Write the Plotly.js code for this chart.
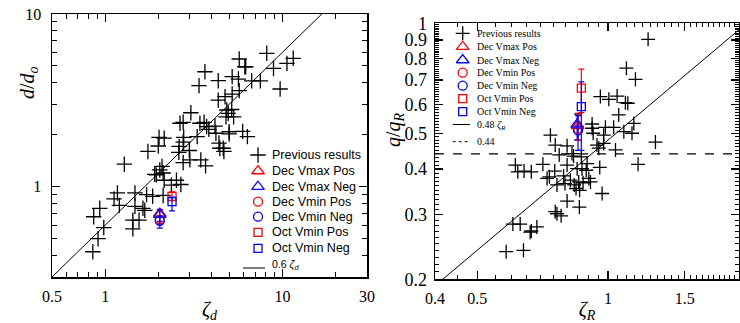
<!DOCTYPE html>
<html><head><meta charset="utf-8">
<script src="https://cdn.plot.ly/plotly-3.0.1.min.js"></script>
<style>html,body{margin:0;padding:0;background:#fff}#chart{width:740px;height:323px}</style>
</head><body><div id="chart"></div>
<script>
// ---------- Left panel data ----------
const prevLeftX = [0.85,0.86,0.93,0.91,0.98,1.17,1.12,1.2,1.28,1.47,1.47,1.43,1.55,1.43,1.63,1.67,1.71,1.74,1.85,1.9,1.94,1.99,2.01,2.15,2.09,2.12,2.15,2.03,2.12,2.36,2.52,2.67,2.6,2.61,2.64,2.75,2.75,2.77,2.75,2.98,3.0,3.04,3.3,3.38,3.46,3.42,3.65,3.61,3.68,3.73,3.84,4.16,4.21,4.34,4.34,4.38,4.43,4.67,4.63,4.74,4.8,4.85,4.94,5.0,5.17,5.2,5.2,5.3,5.0,5.64,5.7,5.7,6.13,6.2,5.96,6.34,6.7,7.5,8.15,8.9,9.7,10.6,11.5];
const prevLeftY = [0.42,0.67,0.75,0.50,0.58,0.92,0.85,0.78,1.35,0.92,0.77,0.64,0.64,0.57,0.75,0.73,0.90,1.60,0.88,1.18,1.17,1.72,1.93,1.91,1.31,1.20,1.09,1.25,0.89,1.02,1.09,1.03,1.58,1.71,2.33,2.36,1.81,1.93,1.38,1.62,1.43,2.68,1.95,3.85,1.43,2.33,4.63,2.36,1.32,2.23,2.15,2.24,2.04,4.11,3.17,1.79,1.67,1.60,1.67,3.32,2.54,2.78,2.66,2.08,2.80,4.34,3.44,2.54,2.02,4.2,5.49,3.6,4.95,4.95,2.09,1.95,4.1,4.1,5.92,4.84,3.68,5.18,5.54];
const seriesNames = ['Dec Vmax Pos','Dec Vmax Neg','Dec Vmin Pos','Dec Vmin Neg','Oct Vmin Pos','Oct Vmin Neg'];
const leftSeriesX = [2.03,2.03,2.03,2.03,2.38,2.38];
const leftSeriesY = [0.70,0.69,0.645,0.635,0.88,0.82];
const leftErrPlus = [0.025,0.05,0.03,0.04,0.055,0.05];
const leftErrMinus = [0.03,0.06,0.03,0.06,0.05,0.095];
const leftLineCoef = 0.6;
const leftLineX = [0.5, 30];

// ---------- Right panel data ----------
const prevRightX = [0.583,0.639,0.604,0.628,0.662,0.666,0.686,0.612,0.62,0.641,0.666,0.708,0.724,0.733,0.737,0.756,0.772,0.754,0.763,0.756,0.763,0.78,0.805,0.805,0.805,0.79,0.796,0.819,0.826,0.833,0.836,0.844,0.856,0.86,0.859,0.849,0.868,0.871,0.876,0.891,0.895,0.903,0.911,0.919,0.924,0.919,0.952,0.943,0.957,0.969,0.96,0.977,0.977,0.986,1.004,1.03,1.04,1.049,1.058,1.087,1.096,1.11,1.102,1.156,1.135,1.146,1.172,1.236,1.285];
const prevRightY = [0.238,0.24,0.283,0.283,0.269,0.271,0.278,0.41,0.393,0.395,0.393,0.412,0.377,0.381,0.495,0.465,0.437,0.395,0.362,0.306,0.302,0.298,0.327,0.463,0.41,0.383,0.365,0.373,0.441,0.434,0.362,0.354,0.369,0.35,0.315,0.401,0.432,0.401,0.367,0.397,0.414,0.377,0.369,0.517,0.501,0.531,0.456,0.465,0.404,0.343,0.631,0.495,0.47,0.52,0.62,0.52,0.451,0.633,0.562,0.506,0.607,0.605,0.754,0.703,0.501,0.533,0.412,0.904,0.474];
const rightSeriesX = [0.851,0.849,0.853,0.853,0.868,0.868];
const rightSeriesY = [0.525,0.53,0.515,0.51,0.665,0.592];
const rightErrPlus = [0.043,0.035,0.05,0.05,0.085,0.10];
const rightErrMinus = [0.045,0.05,0.035,0.06,0.095,0.142];
const rightLineCoef = 0.48;
const rightLineX = [0.4, 2];
const rightConst = 0.44;

// tick labels
const leftXTicks = [0.5,1,10,30];
const leftYTicks = [1,10];
const rightXTicks = [0.4,0.5,1,1.5,2];
const rightYTicks = [0.2,0.3,0.4,0.5,0.6,0.7,0.8,0.9,1];

// ---------- styles ----------
const W = 740, H = 323;
const colors = ['#ff0000','#0000ff','#ff0000','#0000ff','#ff0000','#0000ff'];
const symbols = ['triangle-up-open','triangle-up-open','circle-open','circle-open','square-open','square-open'];
const sizes = [11,11,9,9,8,8];
const serif = 'Liberation Serif, Times New Roman, serif';
const sans = 'Liberation Sans, Arial, sans-serif';

function logMinors(lo, hi){const a=[];for(let e=-1;e<=1;e++){for(let m=2;m<=9;m++){const v=+(m*Math.pow(10,e)).toFixed(6);if(v>lo&&v<hi)a.push(v);}}return a;}
function linMinors(lo, hi, step, majors){const a=[];const n=Math.round((hi-lo)/step);for(let i=1;i<n;i++){const v=+(lo+i*step).toFixed(4);if(!majors.some(m=>Math.abs(m-v)<1e-6))a.push(v);}return a;}

const traces = [];
traces.push({x:leftLineX, y:leftLineX.map(v=>leftLineCoef*v), mode:'lines', line:{color:'#000',width:1}, xaxis:'x', yaxis:'y', showlegend:false});
traces.push({x:rightLineX, y:rightLineX.map(v=>rightLineCoef*v), mode:'lines', line:{color:'#000',width:1}, xaxis:'x2', yaxis:'y2', showlegend:false});
traces.push({x:rightLineX, y:rightLineX.map(()=>rightConst), mode:'lines', line:{color:'#000',width:1.2,dash:'dash'}, xaxis:'x2', yaxis:'y2', showlegend:false});
traces.push({x:prevLeftX, y:prevLeftY, mode:'markers', marker:{symbol:'cross-thin-open', size:11, color:'#000', line:{color:'#000',width:1.3}}, xaxis:'x', yaxis:'y', showlegend:false});
traces.push({x:prevRightX, y:prevRightY, mode:'markers', marker:{symbol:'cross-thin-open', size:10, color:'#000', line:{color:'#000',width:1.3}}, xaxis:'x2', yaxis:'y2', showlegend:false});
for(let i=0;i<seriesNames.length;i++){
  traces.push({x:[leftSeriesX[i]], y:[leftSeriesY[i]], mode:'markers', name:seriesNames[i],
    marker:{symbol:symbols[i], size:sizes[i], color:colors[i], line:{color:colors[i],width:1.3}},
    error_y:{type:'data', array:[leftErrPlus[i]], arrayminus:[leftErrMinus[i]], color:colors[i], thickness:1.2, width:3},
    xaxis:'x', yaxis:'y', showlegend:false});
  traces.push({x:[rightSeriesX[i]], y:[rightSeriesY[i]], mode:'markers', name:seriesNames[i],
    marker:{symbol:symbols[i], size:sizes[i], color:colors[i], line:{color:colors[i],width:1.3}},
    error_y:{type:'data', array:[rightErrPlus[i]], arrayminus:[rightErrMinus[i]], color:colors[i], thickness:1.2, width:3},
    xaxis:'x2', yaxis:'y2', showlegend:false});
}

// ---------- hand-placed legends (compact row spacing as in the original) ----------
const annotations = [];
function legendBlock(sx, tx, rows, font, crossSize){
  const labels = ['Previous results'].concat(seriesNames);
  traces.push({x:[sx], y:[rows[0]], mode:'markers', marker:{symbol:'cross-thin-open', size:crossSize, color:'#000', line:{color:'#000',width:1.3}}, xaxis:'x3', yaxis:'y3', showlegend:false, hoverinfo:'skip'});
  for(let i=0;i<seriesNames.length;i++){
    traces.push({x:[sx], y:[rows[i+1]], mode:'markers', marker:{symbol:symbols[i], size:sizes[i], color:colors[i], line:{color:colors[i],width:1.3}}, xaxis:'x3', yaxis:'y3', showlegend:false, hoverinfo:'skip'});
  }
  labels.forEach((t,i)=>annotations.push({text:t, xref:'paper', yref:'paper', x:tx/W, y:1-rows[i]/H, xanchor:'left', yanchor:'middle', showarrow:false, font:font}));
}
legendBlock(258, 270, [155,171,186.7,201.7,216.7,232.3,248.3], {family:sans, size:12.5, color:'#000'}, 11);
legendBlock(462.7, 475, [33.3,46.7,60,72.7,85.7,98.7,111.7], {family:serif, size:10, color:'#000'}, 10);
traces.push({x:[243,265], y:[268,268], mode:'lines', line:{color:'#000',width:1}, xaxis:'x3', yaxis:'y3', showlegend:false, hoverinfo:'skip'});
annotations.push({text:'0.6 <i>ζ<sub>d</sub></i>', xref:'paper', yref:'paper', x:270/W, y:1-265/H, xanchor:'left', yanchor:'middle', showarrow:false, font:{family:sans, size:10.5, color:'#000'}});
traces.push({x:[452.7,470], y:[124.5,124.5], mode:'lines', line:{color:'#000',width:1}, xaxis:'x3', yaxis:'y3', showlegend:false, hoverinfo:'skip'});
annotations.push({text:'0.48 <i>ζ<sub>R</sub></i>', xref:'paper', yref:'paper', x:475/W, y:1-125/H, xanchor:'left', yanchor:'middle', showarrow:false, font:{family:serif, size:10, color:'#000'}});
traces.push({x:[452.7,470], y:[141.7,141.7], mode:'lines', line:{color:'#000',width:1,dash:'3px,3px'}, xaxis:'x3', yaxis:'y3', showlegend:false, hoverinfo:'skip'});
annotations.push({text:'0.44', xref:'paper', yref:'paper', x:475/W, y:1-141.7/H, xanchor:'left', yanchor:'middle', showarrow:false, font:{family:serif, size:10, color:'#000'}});

// y-axis titles (placed like the original, above centre)
annotations.push({text:'<i>d</i>/<i>d<sub>o</sub></i>', xref:'paper', yref:'paper', x:28/W, y:1-83/H, showarrow:false, textangle:-90, font:{family:serif, size:20, color:'#000'}, xanchor:'center', yanchor:'middle'});
annotations.push({text:'<i>q</i>/<i>q<sub>R</sub></i>', xref:'paper', yref:'paper', x:394/W, y:1-130/H, showarrow:false, textangle:-90, font:{family:serif, size:20, color:'#000'}, xanchor:'center', yanchor:'middle'});

function ax(extra){
  return Object.assign({showline:true, linecolor:'#000', linewidth:1.5, mirror:'allticks', ticks:'inside', ticklen:8, tickwidth:1.2, tickcolor:'#000', showgrid:false, zeroline:false, tickfont:{family:serif, size:16, color:'#000'}, tickmode:'array'}, extra);
}
function minor(vals, len){return {tickvals:vals, ticks:'inside', ticklen:len, tickwidth:1, tickcolor:'#000', showgrid:false};}

const layout = {
  width:W, height:H, margin:{l:0,r:0,t:0,b:0}, paper_bgcolor:'#fff', plot_bgcolor:'rgba(0,0,0,0)',
  showlegend:false,
  xaxis: ax({type:'log', domain:[52/W, 367/W], range:[Math.log10(0.5), Math.log10(30)], anchor:'y',
    tickvals:leftXTicks, ticktext:leftXTicks.map(String), ticklabelstandoff:4,
    minor:minor(logMinors(0.5,30),5),
    title:{text:'<i>ζ<sub>d</sub></i>', font:{family:serif, size:20, color:'#000'}, standoff:4}}),
  yaxis: ax({type:'log', domain:[(H-277)/H, (H-14)/H], range:[Math.log10(0.3), 1], anchor:'x',
    tickvals:leftYTicks, ticktext:leftYTicks.map(String), ticklabelstandoff:6,
    minor:minor(logMinors(0.3,10),5)}),
  xaxis2: ax({type:'log', domain:[435/W, 739/W], range:[Math.log10(0.4), Math.log10(2)], anchor:'y2',
    tickvals:rightXTicks, ticktext:rightXTicks.map(String), ticklabelstandoff:4,
    minor:minor(linMinors(0.4,2,0.05,rightXTicks),4),
    title:{text:'<i>ζ<sub>R</sub></i>', font:{family:serif, size:20, color:'#000'}, standoff:4}}),
  yaxis2: ax({type:'log', domain:[(H-279.3)/H, (H-23.3)/H], range:[Math.log10(0.2), 0], anchor:'x2',
    tickvals:rightYTicks, ticktext:rightYTicks.map(String), ticklabelstandoff:3,
    tickfont:{family:serif, size:18, color:'#000'},
    minor:minor(linMinors(0.2,1,0.01,rightYTicks),4)}),
  xaxis3: {domain:[0,1], range:[0,W], anchor:'y3', visible:false, fixedrange:true},
  yaxis3: {domain:[0,1], range:[H,0], anchor:'x3', visible:false, fixedrange:true},
  annotations:annotations
};
Plotly.newPlot('chart', traces, layout, {staticPlot:true, displayModeBar:false});
</script></body></html>
